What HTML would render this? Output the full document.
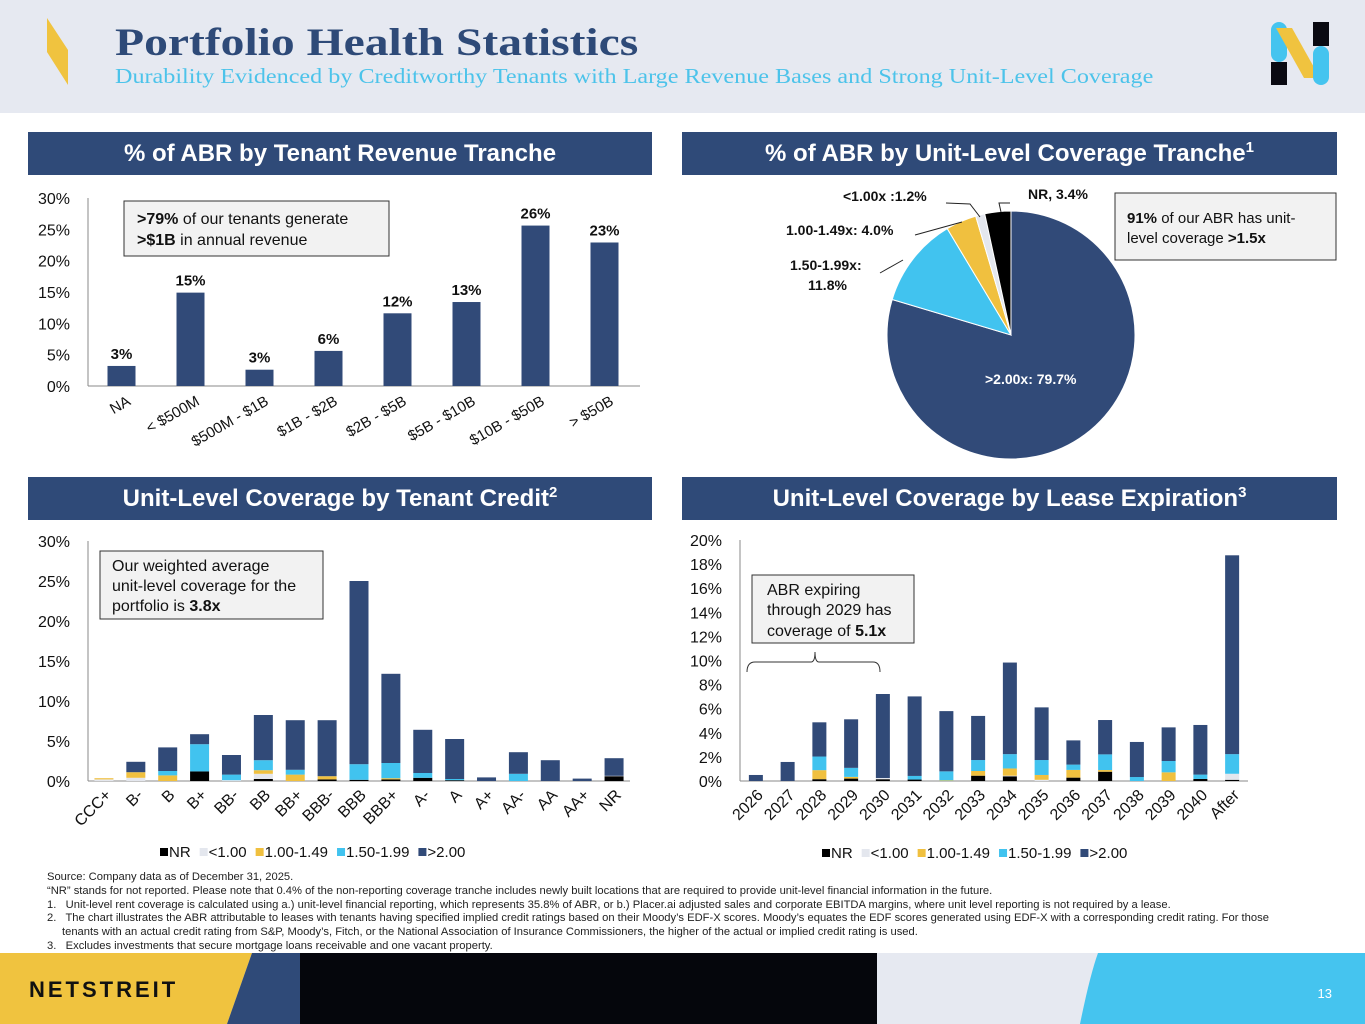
<!DOCTYPE html>
<html><head><meta charset="utf-8">
<style>
body{margin:0;width:1365px;height:1024px;position:relative;overflow:hidden;background:#fff;font-family:"Liberation Sans",Arial,sans-serif;}
.hdr{position:absolute;left:0;top:0;width:1365px;height:113px;background:#e6e9f1;}
.title{position:absolute;left:115px;top:20px;font-family:"Liberation Serif",serif;font-weight:bold;font-size:39px;color:#2e4a78;transform-origin:0 0;transform:scaleX(1.22);white-space:nowrap;}
.sub{position:absolute;left:115px;top:64px;font-family:"Liberation Serif",serif;font-size:21px;color:#4cc3ea;transform-origin:0 0;transform:scaleX(1.15);white-space:nowrap;}
.sec{position:absolute;height:43px;background:#2f4a78;color:#fff;font-weight:bold;font-size:24px;text-align:center;line-height:43px;}
.sec sup{font-size:15px;vertical-align:9px;line-height:0;}
.notes{position:absolute;left:47px;top:871px;font-size:11.2px;line-height:13.8px;color:#222;}
.notes div.i{padding-left:15px;text-indent:-15px;}
</style></head><body>
<div class="hdr"></div>
<svg style="position:absolute;left:0;top:0" width="1365" height="1024">
<polygon points="47,18 68,50 68,85 47,52" fill="#f0c33f"/>
<g>
<rect x="1271" y="22" width="16" height="40" rx="8" fill="#45c4ef"/>
<rect x="1271" y="62" width="16" height="23" fill="#0a0a12"/>
<polygon points="1276,28 1292,28 1320,78 1304,78" fill="#f0c33f"/>
<rect x="1313" y="22" width="16" height="24" fill="#0a0a12"/>
<rect x="1313" y="46" width="16" height="39" rx="8" fill="#45c4ef"/>
</g>
<g>
<rect x="0" y="953" width="1365" height="71" fill="#e6e9f1"/>
<polygon points="0,953 252,953 227,1024 0,1024" fill="#f0c33f"/>
<polygon points="252,953 300,953 300,1024 227,1024" fill="#2f4a78"/>
<rect x="300" y="953" width="577" height="71" fill="#05060c"/>
<path d="M1098,953 L1365,953 L1365,1024 L1080,1024 Q1090,975 1098,953 Z" fill="#45c4ef"/>
</g>
<text x="29" y="997" font-size="22" font-weight="bold" fill="#111" letter-spacing="3">NETSTREIT</text>
<text x="1332" y="998" font-size="13" fill="#fff" text-anchor="end">13</text>
</svg>
<div class="title">Portfolio Health Statistics</div>
<div class="sub">Durability Evidenced by Creditworthy Tenants with Large Revenue Bases and Strong Unit-Level Coverage</div>
<div class="sec" style="left:28px;top:132px;width:624px">% of ABR by Tenant Revenue Tranche</div>
<div class="sec" style="left:682px;top:132px;width:655px">% of ABR by Unit-Level Coverage Tranche<sup>1</sup></div>
<div class="sec" style="left:28px;top:477px;width:624px">Unit-Level Coverage by Tenant Credit<sup>2</sup></div>
<div class="sec" style="left:682px;top:477px;width:655px">Unit-Level Coverage by Lease Expiration<sup>3</sup></div>

<svg id="charts" style="position:absolute;left:0;top:0" width="1365" height="1024" font-family="Liberation Sans, Arial, sans-serif"></svg>

<div class="notes">
<div>Source: Company data as of December 31, 2025.</div>
<div>“NR” stands for not reported. Please note that 0.4% of the non-reporting coverage tranche includes newly built locations that are required to provide unit-level financial information in the future.</div>
<div class="i">1.&nbsp;&nbsp; Unit-level rent coverage is calculated using a.) unit-level financial reporting, which represents 35.8% of ABR, or b.) Placer.ai adjusted sales and corporate EBITDA margins, where unit level reporting is not required by a lease.</div>
<div class="i" style="width:1240px">2.&nbsp;&nbsp; The chart illustrates the ABR attributable to leases with tenants having specified implied credit ratings based on their Moody’s EDF-X scores. Moody’s equates the EDF scores generated using EDF-X with a corresponding credit rating. For those<br>tenants with an actual credit rating from S&amp;P, Moody’s, Fitch, or the National Association of Insurance Commissioners, the higher of the actual or implied credit rating is used.</div>
<div class="i">3.&nbsp;&nbsp; Excludes investments that secure mortgage loans receivable and one vacant property.</div>
</div>

<script>
// ---- Chart 1: revenue tranche ----
const revCats = ["NA","< $500M","$500M - $1B","$1B - $2B","$2B - $5B","$5B - $10B","$10B - $50B","> $50B"];
const revVals = [3.2, 14.9, 2.6, 5.6, 11.6, 13.4, 25.6, 22.9];
const revLabels = ["3%","15%","3%","6%","12%","13%","26%","23%"];
const revTicks = [0,5,10,15,20,25,30];
// ---- Chart 2: pie ----
const pieNames = [">2.00x","1.50-1.99x","1.00-1.49x","<1.00x","NR"];
const pieVals = [79.7, 11.8, 4.0, 1.2, 3.4];
// ---- Chart 3: tenant credit ----
const credCats = ["CCC+","B-","B","B+","BB-","BB","BB+","BBB-","BBB","BBB+","A-","A","A+","AA-","AA","AA+","NR"];
const credNR   = [0,0,0,1.2,0,0.25,0,0.2,0.15,0.2,0.4,0.1,0,0,0,0,0.6];
const credLt1  = [0.2,0.4,0,0,0.1,0.65,0,0,0,0,0,0,0,0,0,0,0.05];
const cred100  = [0.15,0.7,0.7,0,0,0.45,0.8,0.4,0,0.15,0,0,0,0,0,0,0];
const cred150  = [0,0,0.55,3.4,0.7,1.25,0.6,0,1.95,1.9,0.6,0.15,0,0.9,0,0,0];
const cred200  = [0,1.3,2.95,1.25,2.45,5.65,6.2,7.0,22.9,11.15,5.4,5.0,0.45,2.7,2.6,0.3,2.2];
const credTicks = [0,5,10,15,20,25,30];
// ---- Chart 4: lease expiration ----
const expCats = ["2026","2027","2028","2029","2030","2031","2032","2033","2034","2035","2036","2037","2038","2039","2040","After"];
const expNR   = [0,0,0.15,0.2,0.15,0.12,0,0.44,0.39,0,0.28,0.77,0,0,0.17,0.1];
const expLt1  = [0,0,0,0,0.1,0,0,0,0.05,0.1,0,0,0,0,0,0.5];
const exp100  = [0,0,0.75,0.14,0,0,0.05,0.39,0.6,0.4,0.64,0.14,0,0.72,0,0];
const exp150  = [0,0,1.13,0.75,0,0.3,0.75,0.91,1.19,1.24,0.44,1.3,0.33,0.94,0.36,1.63];
const exp200  = [0.5,1.58,2.84,4.03,6.97,6.6,5.0,3.66,7.6,4.37,2.01,2.85,2.91,2.79,4.12,16.5];
const expTicks = [0,2,4,6,8,10,12,14,16,18,20];

const legendNames = ["NR","<1.00","1.00-1.49","1.50-1.99",">2.00"];
const COLS = ["#000000","#e4e7ee","#f0c03f","#41c3ef","#314a78"];
const svg = document.getElementById('charts');
const NS = "http://www.w3.org/2000/svg";
function mk(tag, attrs, parent){const e=document.createElementNS(NS,tag);for(const k in attrs)e.setAttribute(k,attrs[k]);(parent||svg).appendChild(e);return e;}
function txt(s, attrs, parent){const e=mk('text',attrs,parent);e.textContent=s;return e;}

function axisY(g, ticks, y0, y1, max, xAxis, fs, suffix){
  ticks.forEach(t=>{const y=y0-(t/max)*(y0-y1);
    const e=txt(t+suffix,{x:xAxis-18,y:y+6,'font-size':fs,'text-anchor':'end',fill:'#111'},g);
    
    
  });
}

// Chart 1
(function(){
  const g=mk('g',{});
  
  
  const x0=88,x1=640,y0=386,y1=198,max=30;
  const ys=v=>y0-(v/max)*(y0-y1);
  const step=(x1-x0)/revCats.length;
  axisY(g,revTicks,y0,y1,max,x0,16,'%');
  mk('line',{x1:x0,y1:y1,x2:x0,y2:y0,stroke:'#888','stroke-width':1},g);
  mk('line',{x1:x0,y1:y0,x2:x1,y2:y0,stroke:'#888','stroke-width':1},g);
  revCats.forEach((c,i)=>{
    const cx=x0+step*(i+0.5)-1;
    const r=mk('rect',{x:cx-14,y:ys(revVals[i]),width:28,height:y0-ys(revVals[i]),fill:'#314a78'},g);
    
    
    const l=txt(revLabels[i],{x:cx,y:ys(revVals[i])-7,'font-size':15,'font-weight':'bold','text-anchor':'middle',fill:'#111'},g);
    
    
    const cl=txt(c,{x:cx+10,y:404,'font-size':15,'text-anchor':'end',fill:'#111',transform:`rotate(-30 ${cx+10} 404)`},g);
    
    
  });
  const b=mk('rect',{x:124,y:201,width:265,height:55,fill:'#f2f2f2',stroke:'#333','stroke-width':1},g);
  
  
  const t1=mk('text',{x:137,y:224,'font-size':16,fill:'#111'},g);
  t1.innerHTML='<tspan font-weight="bold">&gt;79%</tspan> of our tenants generate';
  const t2=mk('text',{x:137,y:245,'font-size':16,fill:'#111'},g);
  t2.innerHTML='<tspan font-weight="bold">&gt;$1B</tspan> in annual revenue';
})();

// Chart 2 pie
(function(){
  const g=mk('g',{});
  
  
  const cx=1011,cy=335,R=124;
  const total=pieVals.reduce((a,b)=>a+b,0);
  const cols=["#314a78","#41c3ef","#f0c03f","#e4e7ee","#000000"];
  let a=0;
  pieVals.forEach((v,i)=>{
    const a0=a/total*2*Math.PI, a1=(a+v)/total*2*Math.PI; a+=v;
    const p=(t)=>[cx+R*Math.sin(t),cy-R*Math.cos(t)];
    const [sx,sy]=p(a0),[ex,ey]=p(a1);
    const large=(a1-a0)>Math.PI?1:0;
    const s=mk('path',{d:`M${cx},${cy} L${sx},${sy} A${R},${R} 0 ${large} 1 ${ex},${ey} Z`,fill:cols[i],stroke:'#fff','stroke-width':1},g);
    
    
  });
  const lines=[[1001,212,999,203,1010,203],[980,217,970,204,946,203],[962,222,915,235],[903,260,880,273]];
  lines.forEach(l=>{let d='M'+l[0]+','+l[1];for(let k=2;k<l.length;k+=2)d+=' L'+l[k]+','+l[k+1];mk('path',{d:d,stroke:'#222',fill:'none','stroke-width':1},g);});
  const lbl=[["NR, 3.4%",1028,199],["<1.00x :1.2%",843,201],["1.00-1.49x: 4.0%",786,235],["1.50-1.99x:",790,270],["11.8%",808,290]];
  lbl.forEach(l=>{const e=txt(l[0],{x:l[1],y:l[2],'font-size':14,'font-weight':'bold',fill:'#111'},g);
    
    });
  const w=txt(">2.00x: 79.7%",{x:985,y:384,'font-size':14,'font-weight':'bold',fill:'#fff'},g);
  
  
  const b=mk('rect',{x:1115,y:193,width:221,height:67,fill:'#f2f2f2',stroke:'#333'},g);
  
  
  const t1=mk('text',{x:1127,y:223,'font-size':15,fill:'#111'},g);
  t1.innerHTML='<tspan font-weight="bold">91%</tspan> of our ABR has unit-';
  const t2=mk('text',{x:1127,y:243,'font-size':15,fill:'#111'},g);
  t2.innerHTML='level coverage <tspan font-weight="bold">&gt;1.5x</tspan>';
})();

function stacked(name, cats, series, ticks, max, x0, x1, y0, y1, bw, rot, labelY, legendX, legendY){
  const g=mk('g',{});
  
  
  const ys=v=>(v/max)*(y0-y1);
  const step=(x1-x0)/cats.length;
  axisY(g,ticks,y0,y1,max,x0,16,'%');
  mk('line',{x1:x0,y1:y1,x2:x0,y2:y0,stroke:'#888'},g);
  mk('line',{x1:x0,y1:y0,x2:x1,y2:y0,stroke:'#888'},g);
  cats.forEach((c,i)=>{
    const cx=x0+step*(i+0.5);
    let base=y0;
    series.forEach((s,k)=>{const h=ys(s[i]); if(h<=0)return;
      const r=mk('rect',{x:cx-bw/2,y:base-h,width:bw,height:h,fill:COLS[k]},g);
      
      
      base-=h;});
    const lx=cx+8;
    const cl=txt(c,{x:lx,y:labelY,'font-size':16,'text-anchor':'end',fill:'#111',transform:`rotate(${rot} ${lx} ${labelY})`},g);
    
    
  });
  let lx=legendX;
  legendNames.forEach((n,k)=>{
    const sq=mk('rect',{x:lx,y:legendY-9,width:8,height:8,fill:COLS[k]},g);
    
    
    const t=txt(n,{x:lx+9,y:legendY,'font-size':15,fill:'#111'},g);
    
    
    lx+=9+t.getComputedTextLength()+9;
  });
  return g;
}
stacked('tenant-credit-chart',credCats,[credNR,credLt1,cred100,cred150,cred200],credTicks,30,88,630,781,541,19,-45,796,160,857);
stacked('lease-expiration-chart',expCats,[expNR,expLt1,exp100,exp150,exp200],expTicks,20,740,1248,781,540,14,-45,796,822,858);

// annotations
(function(){
  const b=mk('rect',{x:100,y:551,width:223,height:68,fill:'#f2f2f2',stroke:'#333'});
  
  
  txt('Our weighted average',{x:112,y:571,'font-size':16,fill:'#111'});
  txt('unit-level coverage for the',{x:112,y:591,'font-size':16,fill:'#111'});
  const t=mk('text',{x:112,y:611,'font-size':16,fill:'#111'});t.innerHTML='portfolio is <tspan font-weight="bold">3.8x</tspan>';
  const b2=mk('rect',{x:752,y:575,width:162,height:68,fill:'#f2f2f2',stroke:'#333'});
  
  
  txt('ABR expiring',{x:767,y:595,'font-size':16,fill:'#111'});
  txt('through 2029 has',{x:767,y:615,'font-size':16,fill:'#111'});
  const t2=mk('text',{x:767,y:636,'font-size':16,fill:'#111'});t2.innerHTML='coverage of <tspan font-weight="bold">5.1x</tspan>';
  const br=mk('path',{d:'M747,672 Q747,662 755,662 L811,662 Q815,662 815,652 Q815,662 819,662 L873,662 Q880,662 880,672',fill:'none',stroke:'#333','stroke-width':1});
  
  
})();
</script>
</body></html>
